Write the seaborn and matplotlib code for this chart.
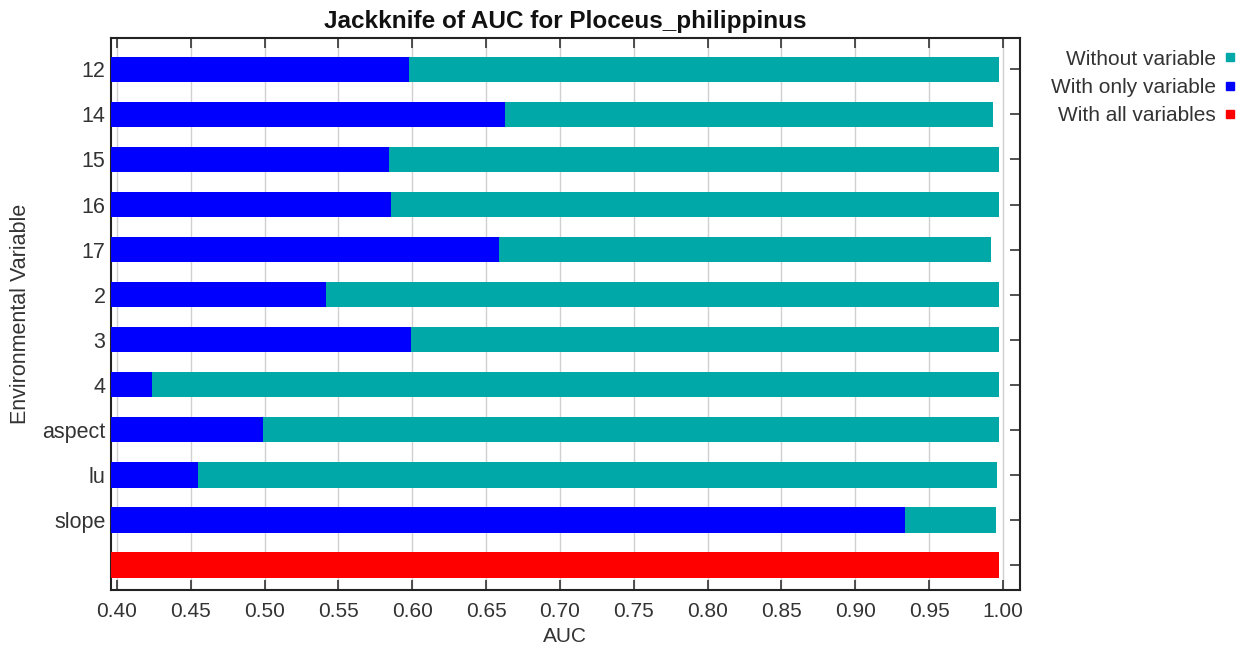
import matplotlib
matplotlib.use("Agg")
import matplotlib.pyplot as plt
import seaborn as sns
import pandas as pd
from matplotlib.lines import Line2D

variables = ["12", "14", "15", "16", "17", "2", "3", "4", "aspect", "lu", "slope"]
without_variable = [0.997, 0.993, 0.997, 0.997, 0.992, 0.997, 0.997, 0.997, 0.997, 0.996, 0.995]
with_only_variable = [0.598, 0.663, 0.584, 0.5855, 0.659, 0.5415, 0.599, 0.4237, 0.499, 0.455, 0.934]
with_all_variables = 0.997
xticks = [0.40, 0.45, 0.50, 0.55, 0.60, 0.65, 0.70, 0.75, 0.80, 0.85, 0.90, 0.95, 1.00]

TEAL = "#00A8A8"
BLUE = "#0000FF"
RED = "#FF0000"

sns.set_theme(style="white")
plt.rcParams["font.family"] = ["Liberation Sans", "DejaVu Sans"]

cats = variables + [" "]
df_without = pd.DataFrame({"var": variables, "auc": without_variable})
df_only = pd.DataFrame({"var": variables, "auc": with_only_variable})
df_all = pd.DataFrame({"var": [" "], "auc": [with_all_variables]})

fig = plt.figure(figsize=(12.55, 6.59), dpi=100)
ax = fig.add_axes([0.0884, 0.105, 0.8127 - 0.0884, 0.942 - 0.105])

ax.grid(True, color="#d0d0d0", linewidth=1.0, zorder=0)
ax.set_axisbelow(True)

sns.barplot(data=df_without, x="auc", y="var", order=cats, orient="h",
            color=TEAL, saturation=1, width=0.56, ax=ax, zorder=2, linewidth=0)
sns.barplot(data=df_only, x="auc", y="var", order=cats, orient="h",
            color=BLUE, saturation=1, width=0.56, ax=ax, zorder=3, linewidth=0)
sns.barplot(data=df_all, x="auc", y="var", order=cats, orient="h",
            color=RED, saturation=1, width=0.56, ax=ax, zorder=3, linewidth=0)

ax.set_xlim(0.396, 1.0115)
ax.set_ylim(11.55, -0.69)
ax.set_xticks(xticks)
ax.set_xticklabels([f"{t:.2f}" for t in xticks])
ax.set_yticks(range(len(cats)))
ax.set_yticklabels(cats)

for s in ax.spines.values():
    s.set_color("#222222")
    s.set_linewidth(1.5)
    s.set_visible(True)

ax.tick_params(axis="x", direction="in", length=7, width=1.2, color="#333333",
               top=True, bottom=True, labelsize=15, labelcolor="#333333", pad=9)
ax.tick_params(axis="y", direction="in", length=7, width=1.2, color="#333333",
               left=False, right=True, labelsize=15.5, labelcolor="#333333", pad=4)

ax.set_xlabel("AUC", fontsize=15, color="#333333", labelpad=4)
ax.set_ylabel("Environmental Variable", fontsize=15.5, color="#333333", labelpad=8)
ax.set_title("Jackknife of AUC for Ploceus_philippinus", fontsize=17.5,
             fontweight="bold", color="#111111", pad=7)

handles = [Line2D([0], [0], marker="s", linestyle="none", markersize=6, color=c)
           for c in (TEAL, BLUE, RED)]
labels = ["Without variable", "With only variable", "With all variables"]
leg = fig.legend(handles, labels, loc="upper right", bbox_to_anchor=(1.002, 0.953),
                 frameon=False, markerfirst=False, fontsize=15, handletextpad=0.3,
                 labelspacing=0.45, handlelength=0.8)
for t in leg.get_texts():
    t.set_color("#333333")

fig.savefig("out.png", dpi=100)
